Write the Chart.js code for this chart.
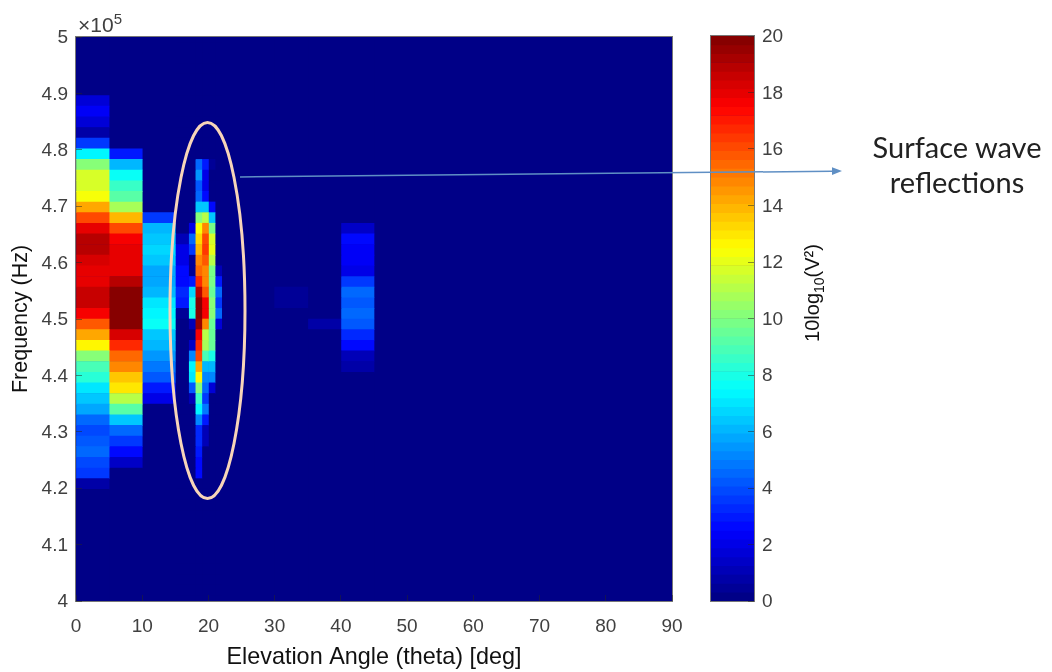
<!DOCTYPE html>
<html>
<head>
<meta charset="utf-8">
<title>Surface wave reflections</title>
<script src="https://cdn.jsdelivr.net/npm/chart.js@4"></script>
<style>
    html, body { margin: 0; padding: 0; background: #fff; }
    body { width: 1052px; height: 672px; position: relative; overflow: hidden; font-family: "Liberation Sans", sans-serif; color: #404040; }
    #mapBox { position: absolute; left: 0; top: 0; width: 700px; height: 672px; }
    #barBox { position: absolute; left: 700px; top: 0; width: 110px; height: 672px; }
    #overlay { position: absolute; left: 0; top: 0; }
    .txt { position: absolute; white-space: nowrap; }
    #exponent { left: 78px; top: 13px; font-size: 21px; line-height: 24px; }
    #exponent sup { font-size: 15px; line-height: 0; vertical-align: 8px; }
    #barTitle { left: 812px; top: 293px; font-size: 20px; color: #111; transform: translate(-50%, -50%) rotate(-90deg); }
    #barTitle sub { font-size: 14px; line-height: 0; }
    #note { left: 957px; top: 129px; transform: translateX(-50%); text-align: center; font-family: Lato, sans-serif; font-size: 29px; line-height: 35px; color: #222; }
</style>
</head>
<body>
<div id="mapBox"><canvas id="mapChart"></canvas></div>
<div id="barBox"><canvas id="barChart"></canvas></div>
<svg id="overlay" width="1052" height="672">
    <ellipse cx="207.5" cy="310.5" rx="37.5" ry="188" fill="none" stroke="#f7d5b9" stroke-width="3"></ellipse>
    <line x1="240" y1="177" x2="832" y2="171.2" stroke="#5f8fc4" stroke-width="1.5"></line>
    <polygon points="842,171 832,167.3 832,175.1" fill="#5f8fc4"></polygon>
</svg>
<div class="txt" id="exponent">×10<sup>5</sup></div>
<div class="txt" id="barTitle">10log<sub>10</sub>(V²)</div>
<div class="txt" id="note">Surface wave<br>reflections</div>

<script>
// Row centres of the map, in units of 10^5 Hz, top to bottom
const freqRows = [
    5.0000, 4.9811, 4.9623, 4.9434, 4.9245, 4.9057, 4.8868, 4.8679, 4.8491, 4.8302,
    4.8113, 4.7925, 4.7736, 4.7547, 4.7358, 4.7170, 4.6981, 4.6792, 4.6604, 4.6415,
    4.6226, 4.6038, 4.5849, 4.5660, 4.5472, 4.5283, 4.5094, 4.4906, 4.4717, 4.4528,
    4.4340, 4.4151, 4.3962, 4.3774, 4.3585, 4.3396, 4.3208, 4.3019, 4.2830, 4.2642,
    4.2453, 4.2264, 4.2075, 4.1887, 4.1698, 4.1509, 4.1321, 4.1132, 4.0943, 4.0755,
    4.0566, 4.0377, 4.0189, 4.0000
];

// Angle bins, [from, to] in degrees
const thetaBins = [[0, 5], [5, 10], [10, 15], [15, 17], [17, 18], [18, 19], [19, 20], [20, 21], [21, 22], [30, 35], [35, 40], [40, 45]];

// Power per bin, same row order as freqRows
const theta0to5 = [
    0, 0, 0, 0, 0, 0, 1.8, 2.3, 1.8, 0.85,
    3.7, 7.3, 10.3, 11.8, 11.8, 12.2, 14.1, 16.2, 18, 19,
    19, 18.4, 18, 18.1, 18.5, 18.5, 17.8, 15.9, 14.2, 12.5,
    10.3, 9, 8.2, 6.9, 6.4, 5.9, 4.4, 3.9, 4.1, 4.6,
    3.8, 3.6, 0.85, 0.2, 0, 0, 0, 0, 0, 0,
    0, 0, 0, 0
];
const theta5to10 = [
    0, 0, 0, 0, 0, 0, 0, 0, 0, 0,
    0, 3.1, 6.2, 7.6, 8.5, 9.2, 10.8, 14, 16.2, 17.7,
    18.1, 18.1, 18.1, 19, 20, 20, 20, 19.7, 18.3, 16.7,
    15.5, 14.7, 13.6, 13, 11, 9.2, 6.4, 4.5, 3.5, 2.7,
    1.4, 0, 0, 0, 0, 0, 0, 0, 0, 0,
    0, 0, 0, 0
];
const theta10to15 = [
    0, 0, 0, 0, 0, 0, 0, 0, 0, 0,
    0, 0, 0, 0, 0, 0, 0, 3.7, 6.2, 6.4,
    6.7, 6.4, 5.7, 5.9, 6.2, 7.1, 7.4, 7.5, 6.5, 6.2,
    5.4, 4.7, 4.3, 2.9, 2, 0, 0, 0, 0, 0,
    0, 0, 0, 0, 0, 0, 0, 0, 0, 0,
    0, 0, 0, 0
];
const theta15to17 = [
    0, 0, 0, 0, 0, 0, 0, 0, 0, 0,
    0, 0, 0, 0, 0, 0, 0, 0, 0, 1.2,
    2, 2, 2.7, 2.8, 3.3, 2.9, 0.5, 0, 0, 0,
    0, 0, 0, 0, 0, 0, 0, 0, 0, 0,
    0, 0, 0, 0, 0, 0, 0, 0, 0, 0,
    0, 0, 0, 0
];
const theta17to18 = [
    0, 0, 0, 0, 0, 0, 0, 0, 0, 0,
    0, 0, 0, 0, 0, 0, 0, 0, 2, 4.6,
    3.7, 0.6, 0.6, 2.9, 6.8, 8, 8.1, 1.2, 0, 1.4,
    5.2, 7.2, 7.1, 4.3, 1.2, 0, 0, 0, 0, 0,
    0, 0, 0, 0, 0, 0, 0, 0, 0, 0,
    0, 0, 0, 0
];
const theta18to19 = [
    0, 0, 0, 0, 0, 0, 0, 0, 0, 0,
    0, 0, 4.5, 5.4, 4.3, 4.5, 6.5, 10, 12.2, 13.4,
    14, 14.9, 15.6, 16.8, 19, 20, 20, 19.5, 17.5, 16.8,
    16, 14.3, 12.8, 10.3, 8.5, 7.2, 5.2, 3.3, 3.3, 3.1,
    2.7, 2.5, 0, 0, 0, 0, 0, 0, 0, 0,
    0, 0, 0, 0
];
const theta19to20 = [
    0, 0, 0, 0, 0, 0, 0, 0, 0, 0,
    0, 0, 2.9, 2, 2, 2.5, 6.5, 11, 14.7, 16.2,
    16.3, 15.7, 14.9, 14.9, 15.8, 17.5, 17.5, 14.9, 11, 10.8,
    9, 6.2, 5, 4.5, 3.7, 4.9, 3, 1, 1.2, 0,
    0, 0, 0, 0, 0, 0, 0, 0, 0, 0,
    0, 0, 0, 0
];
const theta20to21 = [
    0, 0, 0, 0, 0, 0, 0, 0, 0, 0,
    0, 0, 0.5, 0, 0, 0.3, 2.5, 6.4, 9.8, 11.7,
    12, 11, 9.8, 9.8, 9.5, 10, 10, 9.6, 9.6, 9.5,
    8, 6.2, 5, 1.8, 0, 0, 0, 0, 0, 0,
    0, 0, 0, 0, 0, 0, 0, 0, 0, 0,
    0, 0, 0, 0
];
const theta21to22 = [
    0, 0, 0, 0, 0, 0, 0, 0, 0, 0,
    0, 0, 0, 0, 0, 0, 0, 0, 0, 0,
    0, 0, 1.2, 3, 4.5, 3.7, 4.5, 1.8, 0, 0,
    0, 0, 0, 0, 0, 0, 0, 0, 0, 0,
    0, 0, 0, 0, 0, 0, 0, 0, 0, 0,
    0, 0, 0, 0
];
const theta30to35 = [
    0, 0, 0, 0, 0, 0, 0, 0, 0, 0,
    0, 0, 0, 0, 0, 0, 0, 0, 0, 0,
    0, 0, 0, 0, 0.6, 0.6, 0, 0, 0, 0,
    0, 0, 0, 0, 0, 0, 0, 0, 0, 0,
    0, 0, 0, 0, 0, 0, 0, 0, 0, 0,
    0, 0, 0, 0
];
const theta35to40 = [
    0, 0, 0, 0, 0, 0, 0, 0, 0, 0,
    0, 0, 0, 0, 0, 0, 0, 0, 0, 0,
    0, 0, 0, 0, 0, 0, 0, 0.7, 0, 0,
    0, 0, 0, 0, 0, 0, 0, 0, 0, 0,
    0, 0, 0, 0, 0, 0, 0, 0, 0, 0,
    0, 0, 0, 0
];
const theta40to45 = [
    0, 0, 0, 0, 0, 0, 0, 0, 0, 0,
    0, 0, 0, 0, 0, 0, 0, 0, 1.4, 2.5,
    2.3, 2.2, 2.1, 3.5, 4.6, 4.1, 4.6, 4.2, 3.4, 2.7,
    1.2, 0.7, 0, 0, 0, 0, 0, 0, 0, 0,
    0, 0, 0, 0, 0, 0, 0, 0, 0, 0,
    0, 0, 0, 0
];
const powerByBin = [theta0to5, theta5to10, theta10to15, theta15to17, theta17to18, theta18to19, theta19to20, theta20to21, theta21to22, theta30to35, theta35to40, theta40to45];

// Colorbar levels (centres of the 64 colour bands)
const barLevels = [
    0.156, 0.469, 0.781, 1.094, 1.406, 1.719, 2.031, 2.344, 2.656, 2.969, 3.281, 3.594, 3.906, 4.219, 4.531, 4.844,
    5.156, 5.469, 5.781, 6.094, 6.406, 6.719, 7.031, 7.344, 7.656, 7.969, 8.281, 8.594, 8.906, 9.219, 9.531, 9.844,
    10.156, 10.469, 10.781, 11.094, 11.406, 11.719, 12.031, 12.344, 12.656, 12.969, 13.281, 13.594, 13.906, 14.219, 14.531, 14.844,
    15.156, 15.469, 15.781, 16.094, 16.406, 16.719, 17.031, 17.344, 17.656, 17.969, 18.281, 18.594, 18.906, 19.219, 19.531, 19.844
];

const thetaTicks = [0, 10, 20, 30, 40, 50, 60, 70, 80, 90];
const freqTicks = [4, 4.1, 4.2, 4.3, 4.4, 4.5, 4.6, 4.7, 4.8, 4.9, 5];
const powerTicks = [0, 2, 4, 6, 8, 10, 12, 14, 16, 18, 20];

const textColor = "#404040";
const titleColor = "#111111";
const tickColor = "rgba(38, 38, 38, 0.5)";
const edgeColor = "#777777";
const tickFont = { family: "Liberation Sans", size: 19 };

// MATLAB jet, 64 steps
function jet(value) {
    const level = Math.min(63, Math.floor(value / 20 * 64));
    const t = (level + 0.5) / 64;
    const part = (c) => Math.round(255 * Math.max(0, Math.min(1, 1.5 - Math.abs(4 * t - c))));
    return "rgb(" + part(3) + "," + part(2) + "," + part(1) + ")";
}

// Navy plot background and the box around it
const plotBox = {
    id: "plotBox",
    beforeDatasetsDraw(chart) {
        const a = chart.chartArea;
        chart.ctx.fillStyle = jet(0);
        chart.ctx.fillRect(a.left, a.top, a.width, a.height);
    },
    afterDatasetsDraw(chart) {
        const a = chart.chartArea;
        chart.ctx.strokeStyle = edgeColor;
        chart.ctx.lineWidth = 1;
        chart.ctx.strokeRect(a.left - 0.5, a.top - 0.5, a.width + 1, a.height + 1);
    }
};

const mapDatasets = powerByBin.map(function(values, i) {
    return {
        data: values.map(function(v, row) {
            return { x: thetaBins[i], y: freqRows[row], power: v };
        }),
        backgroundColor: (ctx) => jet(ctx.raw.power),
        barPercentage: 1,
        categoryPercentage: 1,
        grouped: false
    };
});

new Chart(document.getElementById("mapChart"), {
    type: "bar",
    data: { datasets: mapDatasets },
    plugins: [plotBox],
    options: {
        indexAxis: "y",
        responsive: true,
        maintainAspectRatio: false,
        animation: false,
        layout: { padding: { top: 37, right: 28, left: 0, bottom: 0 } },
        plugins: { legend: { display: false }, tooltip: { enabled: false } },
        scales: {
            x: {
                type: "linear",
                min: 0,
                max: 90,
                afterBuildTicks: (scale) => { scale.ticks = thetaTicks.map((v) => ({ value: v })); },
                afterFit: (scale) => {
                    scale.height = 71;
                    // the "90" label may hang over, keep the plot edge where it is
                    scale.paddingLeft = 0;
                    scale.paddingRight = 0;
                },
                grid: { drawOnChartArea: false, tickLength: -6, color: tickColor, z: 1 },
                border: { display: false },
                ticks: { color: textColor, font: tickFont, padding: 20, maxRotation: 0, callback: (v) => String(v) },
                title: { display: true, text: "Elevation Angle (theta) [deg]", color: titleColor, font: { family: "Liberation Sans", size: 23.4 }, padding: { top: 0, bottom: 0 } }
            },
            y: {
                type: "linear",
                offset: false,
                min: 4,
                max: 5,
                afterBuildTicks: (scale) => { scale.ticks = freqTicks.map((v) => ({ value: v })); },
                afterFit: (scale) => {
                    scale.width = 76;
                    scale.paddingTop = 0;
                    scale.paddingBottom = 0;
                },
                grid: { drawOnChartArea: false, offset: false, tickLength: -6, color: tickColor, z: 1 },
                border: { display: false },
                ticks: { color: textColor, font: tickFont, padding: 14, labelOffset: 1, callback: (v) => String(Number(v.toFixed(1))) },
                title: { display: true, text: "Frequency (Hz)", color: titleColor, font: { family: "Liberation Sans", size: 21.5 }, padding: { top: 8, bottom: 0 } }
            }
        }
    }
});

new Chart(document.getElementById("barChart"), {
    type: "bar",
    data: {
        datasets: [{
            data: barLevels.map((v) => ({ x: [0, 1], y: v })),
            backgroundColor: (ctx) => jet(ctx.raw.y),
            barPercentage: 1,
            categoryPercentage: 1,
            grouped: false
        }]
    },
    plugins: [plotBox],
    options: {
        indexAxis: "y",
        responsive: true,
        maintainAspectRatio: false,
        animation: false,
        layout: { padding: { top: 36, bottom: 71, left: 11, right: 0 } },
        plugins: { legend: { display: false }, tooltip: { enabled: false } },
        scales: {
            x: { type: "linear", display: false, min: 0, max: 1 },
            y: {
                type: "linear",
                position: "right",
                offset: false,
                min: 0,
                max: 20,
                afterBuildTicks: (scale) => { scale.ticks = powerTicks.map((v) => ({ value: v })); },
                afterFit: (scale) => {
                    scale.width = 56;
                    scale.paddingTop = 0;
                    scale.paddingBottom = 0;
                },
                grid: { drawOnChartArea: false, offset: false, tickLength: -6, color: tickColor, z: 1 },
                border: { display: false },
                ticks: { color: textColor, font: tickFont, padding: 14, labelOffset: 1, callback: (v) => String(v) }
            }
        }
    }
});
</script>
</body>
</html>
